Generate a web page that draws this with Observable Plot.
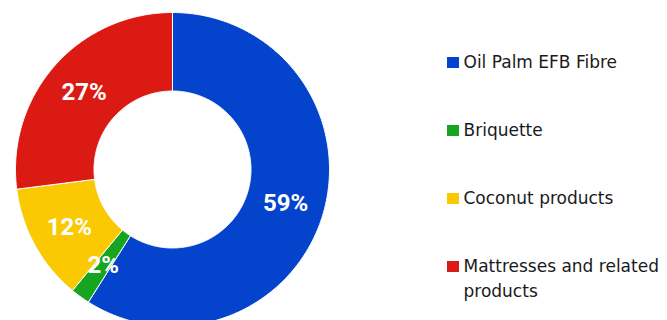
<!DOCTYPE html>
<html><head><meta charset="utf-8">
<script src="https://cdn.jsdelivr.net/npm/d3@7"></script>
<script src="https://cdn.jsdelivr.net/npm/@observablehq/plot@0.6"></script>
<style>
html,body{margin:0;padding:0;background:#fff;}
#wrap{position:relative;width:667px;height:320px;overflow:hidden;}
#legend{position:absolute;left:447px;top:50px;display:flex;flex-direction:column;gap:43px;font-family:"DejaVu Sans",sans-serif;font-size:17px;color:#1a1a1a;}
.item{display:flex;align-items:flex-start;line-height:25px;width:220px;}
.sw{width:11.5px;height:11.5px;margin-top:6.5px;margin-right:5px;flex:none;}
</style>
</head><body>
<div id="wrap"><div id="chart"></div><div id="legend"></div></div>
<script>
const categories = ["Oil Palm EFB Fibre", "Briquette", "Coconut products", "Mattresses and related products"];
const shares = [59, 2, 12, 27];
const labels = ["59%", "2%", "12%", "27%"];
const colors = ["#0443cb", "#17a521", "#fbc902", "#dc1a14"];

const data = categories.map((c, i) => ({name: c, value: shares[i], label: labels[i]}));
const inner = 0.5;
const pie = d3.pie().sort(null).value(d => d.value)(data);

// polygon outline of each slice (derived from pie angles)
const pts = [];
for (const a of pie) {
  const n = Math.max(2, Math.ceil((a.endAngle - a.startAngle) / 0.01));
  const ring = [];
  for (let k = 0; k <= n; k++) {
    const t = a.startAngle + (a.endAngle - a.startAngle) * k / n;
    ring.push({name: a.data.name, x: Math.sin(t), y: Math.cos(t)});
  }
  for (let k = n; k >= 0; k--) {
    const t = a.startAngle + (a.endAngle - a.startAngle) * k / n;
    ring.push({name: a.data.name, x: inner * Math.sin(t), y: inner * Math.cos(t)});
  }
  ring.push({...ring[0]});
  pts.push(...ring);
}
const mid = (1 + inner) / 2;
const lab = pie.map(a => {
  const t = (a.startAngle + a.endAngle) / 2;
  return {name: a.data.name, label: a.data.label, x: mid * Math.sin(t), y: mid * Math.cos(t)};
});

const R = 157, cx = 172, cy = 169, W = 667, H = 320;
const chart = Plot.plot({
  width: W, height: H,
  margin: 0,
  x: {domain: [-cx / R, (W - cx) / R], axis: null},
  y: {domain: [-(H - cy) / R, cy / R], axis: null},
  color: {domain: categories, range: colors},
  style: {background: "#fff"},
  marks: [
    Plot.line(pts, {x: "x", y: "y", z: "name", fill: "name", stroke: "#fff", strokeWidth: 1, curve: "linear"}),
    Plot.text(lab, {x: "x", y: "y", text: "label", fill: "#fff", fontSize: 24, fontWeight: "bold", fontFamily: "Roboto", dy: 1})
  ]
});
document.getElementById("chart").appendChild(chart);

const color = chart.scale("color");
const lg = document.getElementById("legend");
for (const c of categories) {
  const it = document.createElement("div");
  it.className = "item";
  const sw = document.createElement("div");
  sw.className = "sw";
  sw.style.background = color.apply(c);
  const tx = document.createElement("div");
  tx.textContent = c;
  it.appendChild(sw); it.appendChild(tx);
  lg.appendChild(it);
}
</script>
</body></html>
